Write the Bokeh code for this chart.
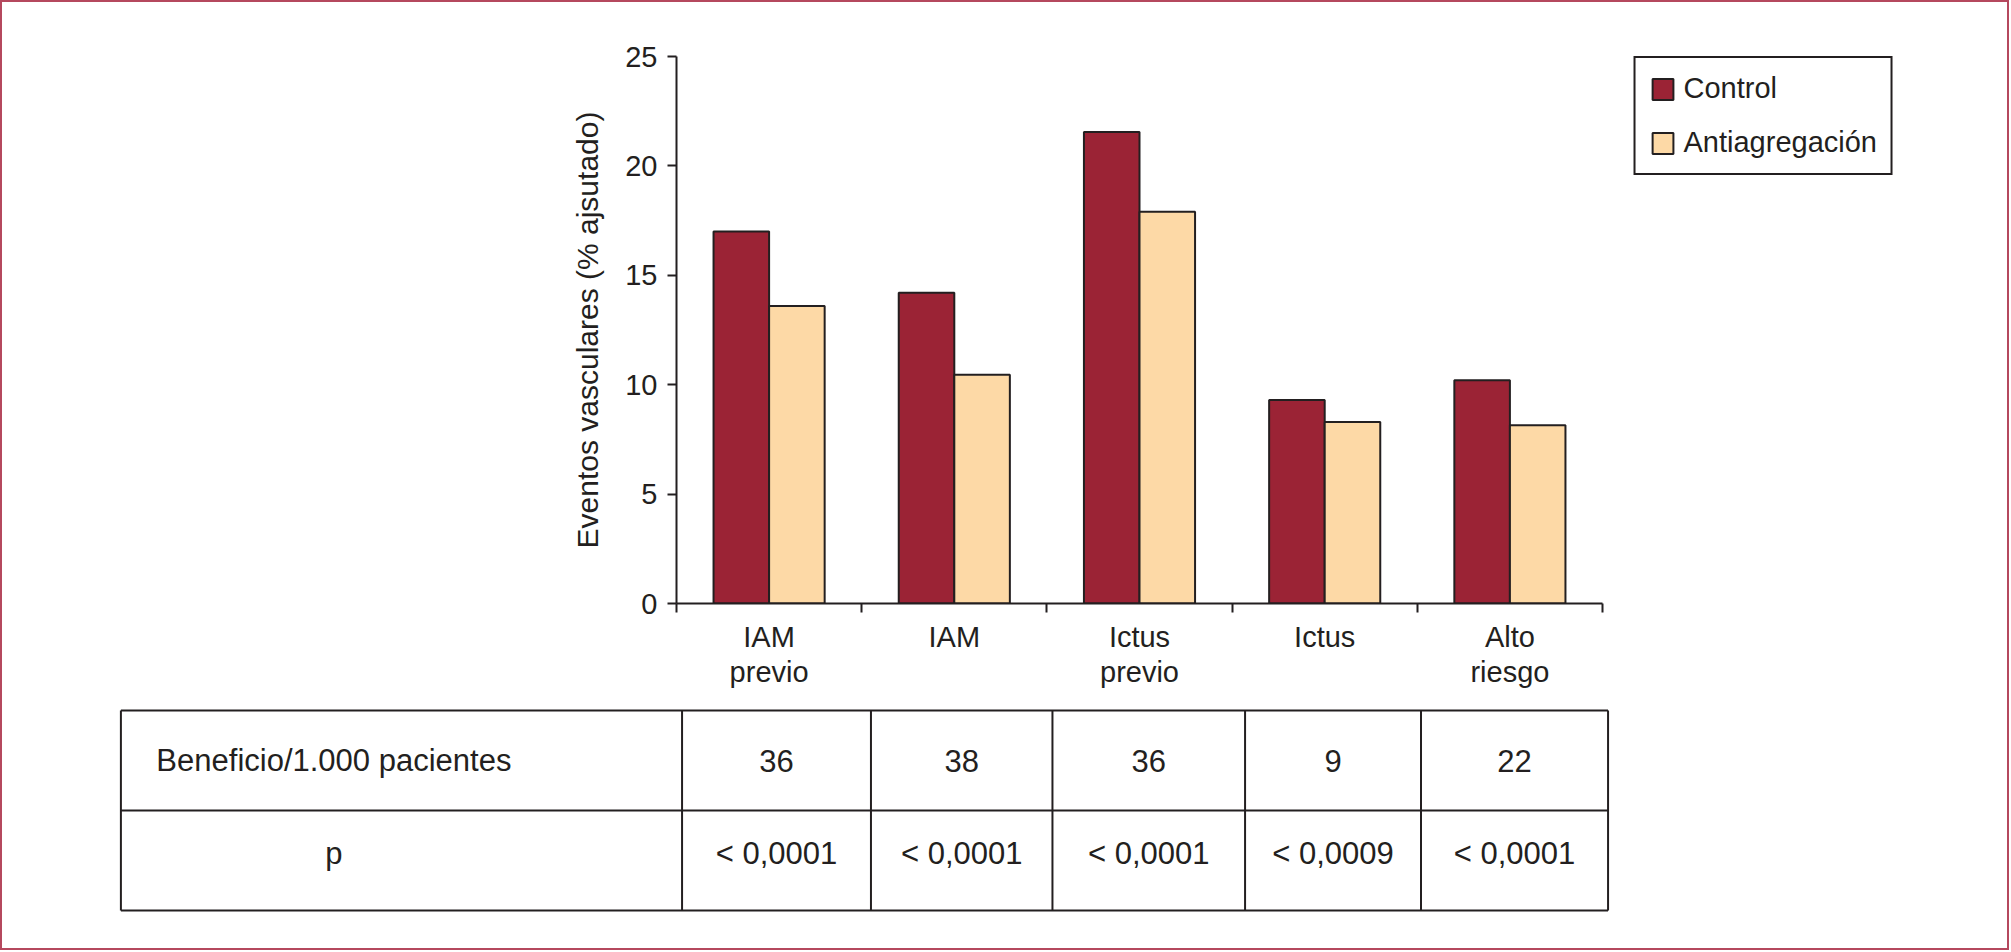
from bokeh.plotting import figure
from bokeh.models import Range1d, FixedTicker, ColumnDataSource, Legend, LegendItem
from bokeh.layouts import column
from bokeh.embed import file_html
from bokeh.resources import INLINE
from bokeh.core.properties import value

# ---------------- data ----------------
categories = ["IAM previo", "IAM", "Ictus previo", "Ictus", "Alto riesgo"]
control = [17.0, 14.2, 21.55, 9.3, 10.2]
antiagregacion = [13.6, 10.45, 17.9, 8.3, 8.15]
series_names = ["Control", "Antiagregación"]
y_ticks = [0, 5, 10, 15, 20, 25]
y_title = "Eventos vasculares (% ajsutado)"
row_labels = ["Beneficio/1.000 pacientes", "p"]
beneficio = ["36", "38", "36", "9", "22"]
p_values = ["< 0,0001", "< 0,0001", "< 0,0001", "< 0,0009", "< 0,0001"]

# ---------------- style / layout ----------------
FONT = "Liberation Sans"
INK = "#231f20"
RED = "#9b2335"
PEACH = "#fdd9a6"
BORDER = "#b5485e"

W = 2005
H1 = 690
H2 = 256
LEFT = 674
FRAME_RIGHT = 1891
FRAME_TOP = 54
FRAME_BOTTOM = 601
CAT_PX = 185.2
x_end = (FRAME_RIGHT - LEFT) / CAT_PX
BAR_W = 0.3

idx = list(range(len(categories)))

p = figure(width=W, height=H1, x_range=Range1d(0, x_end), y_range=Range1d(0, 25),
           output_backend="svg", toolbar_location=None,
           min_border_left=LEFT, min_border_right=W - FRAME_RIGHT,
           min_border_top=FRAME_TOP, min_border_bottom=H1 - FRAME_BOTTOM)
p.frame_align = False
p.outline_line_color = None
p.grid.visible = False
p.background_fill_color = "white"

src = ColumnDataSource(dict(
    xc=[i + 0.5 - BAR_W / 2 for i in idx],
    xa=[i + 0.5 + BAR_W / 2 for i in idx],
    control=control,
    anti=antiagregacion,
))
r1 = p.vbar(x="xc", top="control", bottom=0, width=BAR_W, source=src,
            fill_color=RED, line_color=INK, line_width=2)
r2 = p.vbar(x="xa", top="anti", bottom=0, width=BAR_W, source=src,
            fill_color=PEACH, line_color=INK, line_width=2)

xa = p.xaxis[0]
xa.ticker = FixedTicker(ticks=[i + 0.5 for i in idx], minor_ticks=list(range(len(categories) + 1)))
xa.major_label_overrides = {i + 0.5: c.replace(" ", "\n") for i, c in enumerate(categories)}
xa.bounds = (0, len(categories))
xa.major_tick_line_color = None
xa.major_tick_out = 9
xa.major_tick_in = 0
xa.minor_tick_out = 9
xa.minor_tick_in = 0
xa.minor_tick_line_color = INK
xa.minor_tick_line_width = 2
xa.axis_line_color = INK
xa.axis_line_width = 2
xa.major_label_text_font = FONT
xa.major_label_text_font_size = "29px"
xa.major_label_text_color = INK
xa.major_label_standoff = 8
xa.major_label_text_line_height = 1.1

ya = p.yaxis[0]
ya.ticker = FixedTicker(ticks=y_ticks, minor_ticks=[])
ya.major_tick_out = 9
ya.major_tick_in = 0
ya.major_tick_line_color = INK
ya.major_tick_line_width = 2
ya.minor_tick_line_color = None
ya.axis_line_color = INK
ya.axis_line_width = 2
ya.major_label_text_font = FONT
ya.major_label_text_font_size = "29px"
ya.major_label_text_color = INK
ya.major_label_standoff = 10
ya.axis_label = y_title
ya.axis_label_text_font = FONT
ya.axis_label_text_font_size = "30px"
ya.axis_label_text_font_style = "normal"
ya.axis_label_text_color = INK
ya.axis_label_standoff = 18

legend = Legend(items=[LegendItem(label=series_names[0], renderers=[r1]),
                       LegendItem(label=series_names[1], renderers=[r2])],
                location="top_right", margin=0, padding=14, spacing=21,
                glyph_width=26, glyph_height=26, label_standoff=8,
                border_line_color=INK, border_line_width=2, border_line_alpha=1.0,
                label_text_font=FONT, label_text_font_size="29px",
                label_text_color=INK)
p.add_layout(legend)

# ---------------- table ----------------
TABLE_TOP = 18
t = figure(width=W, height=H2,
           x_range=Range1d(-LEFT / CAT_PX, (W - LEFT) / CAT_PX),
           y_range=Range1d(0.5 + TABLE_TOP / 100 - H2 / 100, 0.5 + TABLE_TOP / 100),
           output_backend="svg", toolbar_location=None, min_border=0,
           x_axis_location=None, y_axis_location=None)
t.frame_align = False
t.grid.visible = False
t.outline_line_color = None

col_edges = [-3.0, 0.03, 1.05, 2.03, 3.07, 4.02, 5.03]
row_edges = [0.5, -0.5, -1.5]
row_text_y = [0.0, -0.93]
label_x = -1.85

xs = [[e, e] for e in col_edges] + [[col_edges[0], col_edges[-1]] for _ in row_edges]
ys = [[row_edges[0], row_edges[-1]] for _ in col_edges] + [[r, r] for r in row_edges]
t.multi_line(xs=xs, ys=ys, line_color=INK, line_width=2)

cell_x = [(col_edges[i + 1] + col_edges[i + 2]) / 2 for i in idx]
tx, ty, tt = [], [], []
for r, (lab, vals) in enumerate(zip(row_labels, [beneficio, p_values])):
    tx.append(label_x); ty.append(row_text_y[r]); tt.append(lab)
    for i, v in enumerate(vals):
        tx.append(cell_x[i]); ty.append(row_text_y[r]); tt.append(v)
t.text(x=tx, y=ty, text=tt, text_align="center", text_baseline="middle",
       text_font=value(FONT), text_font_size="31px", text_color=INK)

layout = column(p, t, styles={"border": "2px solid " + BORDER})
open("out.html", "w").write(file_html(layout, INLINE))
